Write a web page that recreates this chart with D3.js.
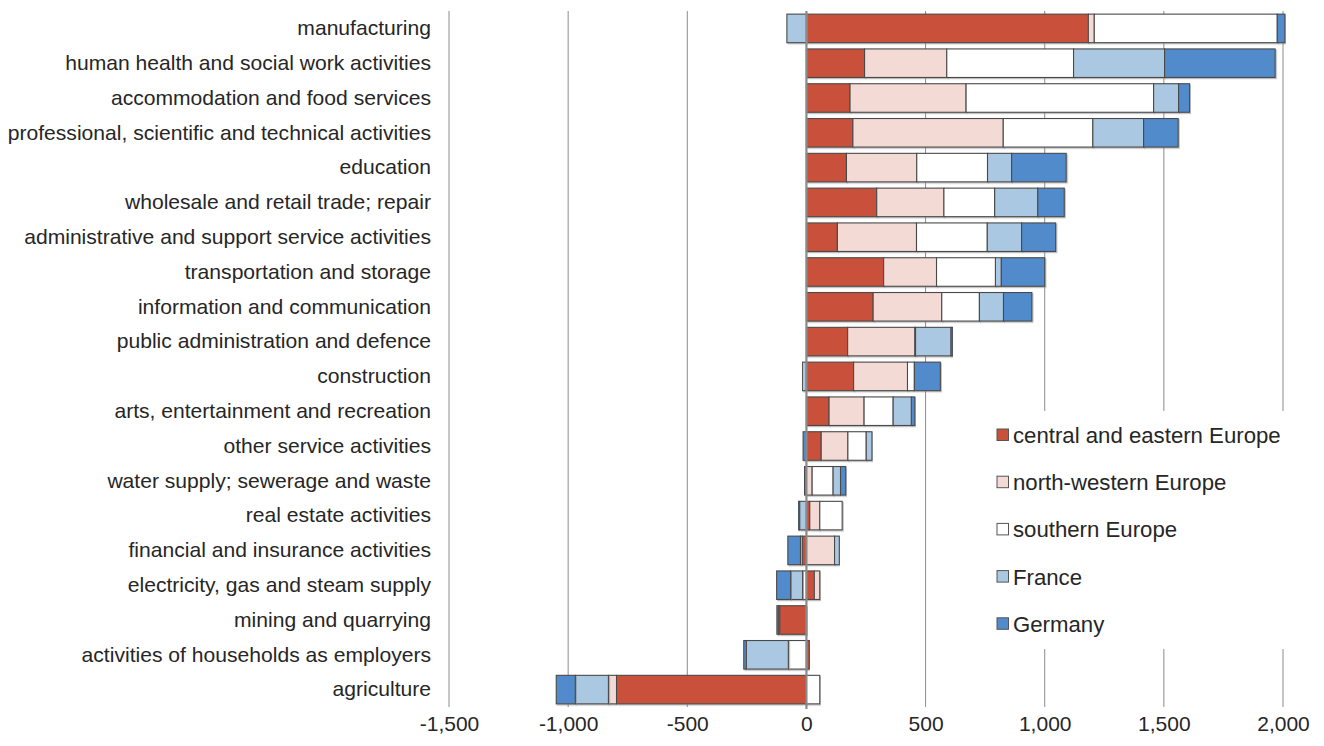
<!DOCTYPE html>
<html>
<head>
<meta charset="utf-8">
<script src="https://cdn.jsdelivr.net/npm/d3@7"></script>
<style>
  html, body { margin: 0; padding: 0; background: #fff; }
  svg { display: block; font-family: "Liberation Sans", Arial, sans-serif; }
</style>
</head>
<body>
<svg id="chart" width="1324" height="746"></svg>
<script>
// Sectors, top to bottom
const sectors = [
  "manufacturing",
  "human health and social work activities",
  "accommodation and food services",
  "professional, scientific and technical activities",
  "education",
  "wholesale and retail trade; repair",
  "administrative and support service activities",
  "transportation and storage",
  "information and communication",
  "public administration and defence",
  "construction",
  "arts, entertainment and recreation",
  "other service activities",
  "water supply; sewerage and waste",
  "real estate activities",
  "financial and insurance activities",
  "electricity, gas and steam supply",
  "mining and quarrying",
  "activities of households as employers",
  "agriculture"
];

// Origin groups (stack order)
const groups = [
  "central and eastern Europe",
  "north-western Europe",
  "southern Europe",
  "France",
  "Germany"
];

// Values per group, same order as sectors
const centralEastern = [1183, 244, 183, 195, 168, 295, 130, 324, 280, 173, 198, 95, 62, -8, 14, -17, 33, -112, 12, -797];
const northWestern   = [25, 345, 487, 631, 295, 282, 332, 222, 288, 282, 226, 147, 112, 24, 42, 118, 23, 0, 0, -34];
const southern       = [768, 532, 787, 376, 297, 213, 297, 247, 158, 3, 29, 122, 77, 88, 94, -8, -16, -2, -76, 56];
const france         = [-82, 382, 105, 213, 101, 181, 144, 25, 101, 149, -17, 76, 24, 31, -28, 20, -50, -4, -176, -139];
const germany        = [32, 464, 46, 145, 229, 111, 143, 182, 119, 7, 109, 15, -14, 22, -6, -53, -59, -6, -11, -80];

const tickValues = [-1500, -1000, -500, 0, 500, 1000, 1500, 2000];
const tickLabels = ["-1,500", "-1,000", "-500", "0", "500", "1,000", "1,500", "2,000"];

const colors = ["#C9513A", "#F4DAD5", "#FFFFFF", "#ABC8E2", "#518BCB"];

const seriesValues = [centralEastern, northWestern, southern, france, germany];
const rows = sectors.map((s, i) => {
  const r = { sector: s };
  groups.forEach((g, k) => { r[g] = seriesValues[k][i]; });
  return r;
});

const svg = d3.select("#chart");

const x = d3.scaleLinear().domain([-1500, 2000]).range([449, 1283]);
const y = d3.scaleBand().domain(sectors).range([11, 707])
  .paddingInner(0.18).paddingOuter(0.09);
const color = d3.scaleOrdinal().domain(groups).range(colors);

const stack = d3.stack().keys(groups).offset(d3.stackOffsetDiverging);
const layers = stack(rows);

// soft shadow under the bars
const defs = svg.append("defs");
const f = defs.append("filter").attr("id", "shadow")
  .attr("x", "-5%").attr("y", "-20%").attr("width", "110%").attr("height", "150%");
f.append("feDropShadow").attr("dx", 1.2).attr("dy", 1.2)
  .attr("stdDeviation", 0.6).attr("flood-color", "#888").attr("flood-opacity", 0.55);

// vertical gridlines
svg.append("g").selectAll("line")
  .data(tickValues.filter(v => v !== 0))
  .join("line")
  .attr("x1", d => x(d)).attr("x2", d => x(d))
  .attr("y1", 11).attr("y2", 707)
  .attr("stroke", "#8c8c8c").attr("stroke-width", 1);

// stacked bars
svg.append("g").selectAll("g")
  .data(layers)
  .join("g")
  .attr("fill", d => color(d.key))
  .selectAll("rect")
  .data(d => d.filter(p => p[1] !== p[0]))
  .join("rect")
  .attr("x", d => x(Math.min(d[0], d[1])))
  .attr("width", d => Math.abs(x(d[1]) - x(d[0])))
  .attr("y", d => y(d.data.sector))
  .attr("height", y.bandwidth())
  .attr("stroke", "#4a4a4a")
  .attr("stroke-width", 1.1)
  .attr("filter", "url(#shadow)");

// zero line
svg.append("line")
  .attr("x1", x(0)).attr("x2", x(0))
  .attr("y1", 11).attr("y2", 709)
  .attr("stroke", "#8a8a8a").attr("stroke-width", 2.2);

// x-axis labels
const xAxis = d3.axisBottom(x)
  .tickValues(tickValues)
  .tickFormat((d, i) => tickLabels[i])
  .tickSize(0).tickPadding(0);
const gx = svg.append("g").attr("transform", "translate(0,712)").call(xAxis);
gx.select(".domain").remove();
gx.selectAll("text")
  .attr("font-size", "21px")
  .attr("fill", "#262626")
  .attr("font-family", "'Liberation Sans', Arial, sans-serif")
  .attr("dy", "0.9em");

// category labels
const yAxis = d3.axisLeft(y).tickSize(0).tickPadding(0);
const gy = svg.append("g").attr("transform", "translate(431,0)").call(yAxis);
gy.select(".domain").remove();
gy.selectAll("text")
  .attr("font-size", "21.1px")
  .attr("fill", "#262626")
  .attr("font-family", "'Liberation Sans', Arial, sans-serif");

// legend
const legend = svg.append("g");
legend.append("rect")
  .attr("x", 988).attr("y", 411).attr("width", 310).attr("height", 238)
  .attr("fill", "#fff");
const item = legend.selectAll("g.item")
  .data(groups)
  .join("g").attr("class", "item")
  .attr("transform", (d, i) => `translate(997, ${435 + i * 47.2})`);
item.append("rect")
  .attr("x", 0).attr("y", -6).attr("width", 11.5).attr("height", 11.5)
  .attr("fill", d => color(d))
  .attr("stroke", "#555").attr("stroke-width", 1);
item.append("text")
  .attr("x", 16).attr("y", 0).attr("dy", "0.36em")
  .attr("font-size", "22.2px")
  .attr("fill", "#262626")
  .text(d => d);
</script>
</body>
</html>
